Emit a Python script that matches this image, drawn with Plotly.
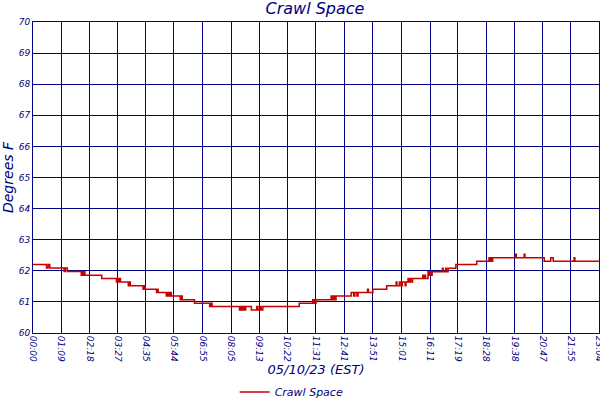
import plotly.graph_objects as go

# Crawl space temperature log for 05/10/23, minutes since midnight -> deg F.
# The sensor reports in small steps, so the trace is drawn as a step line.
minutes = [
    0, 33, 37, 41, 76, 79, 84, 118, 120, 122, 125, 127, 168,
    204, 207, 209, 212, 214, 233, 236, 238, 269, 272, 274,
    302, 304, 306, 326, 329, 332, 335, 338, 360, 362, 365,
    395, 432, 435, 438, 505, 508, 511, 514, 517, 520, 534,
    547, 550, 556, 558, 562, 651, 684, 686, 689, 690, 692,
    729, 731, 733, 735, 737, 739, 741, 778, 784, 787, 792,
    795, 818, 820, 831, 865, 888, 890, 896, 900, 903, 910,
    912, 917, 919, 922, 924, 928, 953, 955, 958, 960, 966,
    968, 971, 973, 976, 1001, 1003, 1009, 1011, 1015, 1034,
    1085, 1115, 1117, 1119, 1121, 1124, 1127, 1180, 1182,
    1201, 1203, 1250, 1266, 1272, 1323, 1325, 1384,
]
temps_f = [
    62.20, 62.09, 62.20, 62.09, 61.98, 62.09, 61.98, 61.86, 61.97, 61.86, 61.97, 61.86, 61.75,
    61.64, 61.75, 61.64, 61.75, 61.64, 61.52, 61.64, 61.52, 61.41, 61.52, 61.41,
    61.30, 61.41, 61.30, 61.19, 61.30, 61.19, 61.30, 61.19, 61.07, 61.19, 61.07,
    60.96, 60.85, 60.96, 60.85, 60.74, 60.85, 60.74, 60.85, 60.74, 60.85, 60.74,
    60.85, 60.74, 60.85, 60.74, 60.85, 60.96, 61.07, 60.96, 61.07, 60.96, 61.07,
    61.19, 61.07, 61.19, 61.07, 61.19, 61.07, 61.19, 61.30, 61.19, 61.30, 61.19,
    61.30, 61.41, 61.30, 61.41, 61.52, 61.64, 61.52, 61.64, 61.52, 61.64, 61.52,
    61.64, 61.75, 61.64, 61.75, 61.64, 61.75, 61.86, 61.75, 61.86, 61.75, 61.97,
    61.86, 61.97, 61.86, 61.97, 62.08, 61.97, 62.08, 61.97, 62.08, 62.20,
    62.31, 62.42, 62.31, 62.42, 62.31, 62.42, 62.42, 62.53, 62.42,
    62.53, 62.42, 62.31, 62.42, 62.31, 62.42, 62.31, 62.31,
]
tick_labels = [
    "00:00", "01:09", "02:18", "03:27", "04:35", "05:44", "06:55",
    "08:05", "09:13", "10:22", "11:31", "12:41", "13:51", "15:01",
    "16:11", "17:19", "18:28", "19:38", "20:47", "21:55", "23:04",
]
y_ticks = [60, 61, 62, 63, 64, 65, 66, 67, 68, 69, 70]

NAVY = "#000080"
FONT = "DejaVu Sans"


def _to_minutes(label: str) -> int:
    hh, mm = label.split(":")
    return int(hh) * 60 + int(mm)


tick_minutes = [_to_minutes(t) for t in tick_labels]

fig = go.Figure()
fig.add_trace(
    go.Scatter(
        x=minutes,
        y=temps_f,
        mode="lines",
        line=dict(color="#c80000", width=1.5, shape="hv"),
        name="<i>Crawl Space</i>",
    )
)

axis_common = dict(
    showgrid=True,
    gridcolor=NAVY,
    gridwidth=1,
    showline=True,
    linecolor=NAVY,
    linewidth=1,
    mirror=True,
    zeroline=False,
    ticks="",
    automargin=False,
    ticklabeloverflow="allow",
    tickfont=dict(family=FONT, size=9, color=NAVY, style="italic"),
)

fig.update_layout(
    width=600,
    height=400,
    margin=dict(l=33, r=1, t=22, b=67, autoexpand=False),
    paper_bgcolor="white",
    plot_bgcolor="white",
    font=dict(family=FONT, color=NAVY),
    title=dict(
        text="<i>Crawl Space</i>",
        x=0.525,
        xanchor="center",
        y=0.992,
        yanchor="top",
        font=dict(family=FONT, size=16, color=NAVY),
    ),
    xaxis=dict(
        range=[0, tick_minutes[-1]],
        tickvals=tick_minutes,
        ticktext=tick_labels,
        tickangle=90,
        title=dict(
            text="<i>05/10/23 (EST)</i>",
            font=dict(family=FONT, size=13, color=NAVY),
            standoff=21,
        ),
        **axis_common,
    ),
    yaxis=dict(
        range=[60, 70],
        tickvals=y_ticks,
        title=dict(
            text="<i>Degrees F</i>",
            font=dict(family=FONT, size=14, color=NAVY),
            standoff=4,
        ),
        **axis_common,
    ),
    showlegend=True,
    legend=dict(
        orientation="h",
        x=0.457,
        xanchor="center",
        yref="container",
        y=0.02,
        yanchor="middle",
        itemwidth=30,
        font=dict(family=FONT, size=11, color=NAVY),
        bgcolor="rgba(0,0,0,0)",
    ),
)

# the page body has a default 8px margin; drop it so the chart sits at 0,0
fig.write_html(
    "out.html",
    config={"displayModeBar": False},
    post_script="document.body.style.margin = '0';",
)
